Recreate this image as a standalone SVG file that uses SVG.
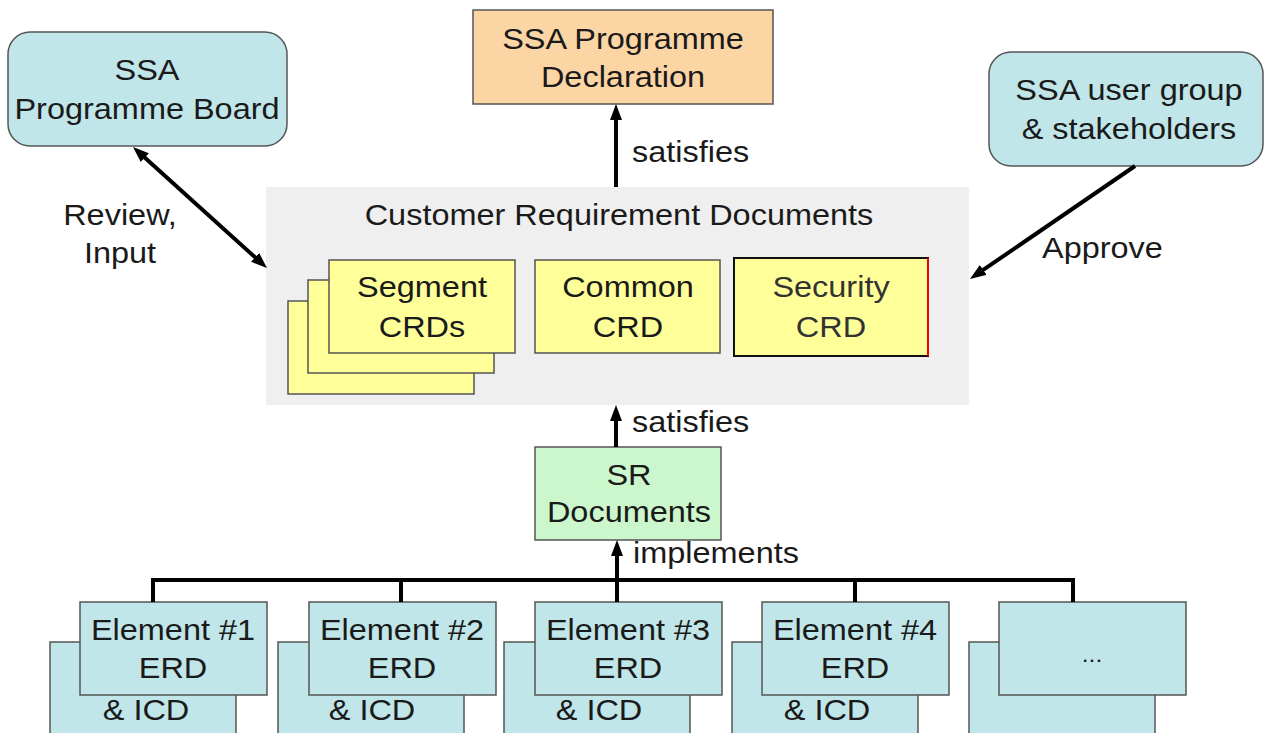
<svg xmlns="http://www.w3.org/2000/svg" width="1265" height="733" viewBox="0 0 1265 733">
<style>
  text { font-family: "Liberation Sans", Arial, sans-serif; font-size: 29px; fill: #1a1a1a; }
  .c { text-anchor: middle; }
  .cyan { fill: #c0e6e9; stroke: #555; stroke-width: 1.5; }
  .yellow { fill: #ffff99; stroke: #555; stroke-width: 1.5; }
  .conn { stroke: #000; stroke-width: 4; fill: none; }
</style>
<defs>
  <marker id="ah" viewBox="0 0 16 12" markerWidth="16" markerHeight="12" refX="4" refY="6" orient="auto-start-reverse" markerUnits="userSpaceOnUse">
    <path d="M0,0 L16,6 L0,12 z" fill="#000"/>
  </marker>
</defs>
<rect width="1265" height="733" fill="#fff"/>

<g id="crd-container">
  <rect x="266" y="187" width="703" height="218" fill="#efefef"/>
  <text class="c" transform="matrix(1.12 0 0 1 619 225)">Customer Requirement Documents</text>
</g>

<g id="board">
  <rect x="8" y="32" width="279" height="114" rx="22" class="cyan"/>
  <text class="c" transform="matrix(1.12 0 0 1 147 80)"><tspan x="0" y="0">SSA</tspan><tspan x="0" y="39">Programme Board</tspan></text>
</g>

<g id="declaration">
  <rect x="473" y="10" width="300" height="94" fill="#fcd5a5" stroke="#555" stroke-width="1.5"/>
  <text class="c" transform="matrix(1.12 0 0 1 623 49)"><tspan x="0" y="0">SSA Programme</tspan><tspan x="0" y="38">Declaration</tspan></text>
</g>

<g id="usergroup">
  <rect x="989" y="52" width="274" height="114" rx="22" class="cyan"/>
  <text class="c" transform="matrix(1.12 0 0 1 1129 100)"><tspan x="0" y="0">SSA user group</tspan><tspan x="0" y="39">&amp; stakeholders</tspan></text>
</g>

<g id="segment-crds">
  <rect x="288" y="301" width="186" height="93" class="yellow"/>
  <rect x="308" y="280" width="186" height="93" class="yellow"/>
  <rect x="329" y="260" width="186" height="93" class="yellow"/>
  <text class="c" transform="matrix(1.12 0 0 1 422 297)"><tspan x="0" y="0">Segment</tspan><tspan x="0" y="40">CRDs</tspan></text>
</g>

<g id="common-crd">
  <rect x="535" y="260" width="185" height="93" class="yellow"/>
  <text class="c" transform="matrix(1.12 0 0 1 628 297)"><tspan x="0" y="0">Common</tspan><tspan x="0" y="40">CRD</tspan></text>
</g>

<g id="security-crd">
  <rect x="734" y="258" width="194" height="98" fill="#ffff99" stroke="#111" stroke-width="2"/>
  <line x1="928" y1="258" x2="928" y2="356" stroke="#e00" stroke-width="2"/>
  <text class="c" transform="matrix(1.12 0 0 1 831 297)" style="fill:#333"><tspan x="0" y="0">Security</tspan><tspan x="0" y="40">CRD</tspan></text>
</g>

<g id="sr-documents">
  <rect x="535" y="447" width="186" height="93" fill="#ccf7cc" stroke="#555" stroke-width="1.5"/>
  <text class="c" transform="matrix(1.12 0 0 1 629 485)"><tspan x="0" y="0">SR</tspan><tspan x="0" y="37">Documents</tspan></text>
</g>

<g id="element1">
  <rect x="50" y="642" width="186" height="100" class="cyan"/>
  <text class="c" transform="matrix(1.12 0 0 1 146 720)">&amp; ICD</text>
  <rect x="80" y="602" width="187" height="93" class="cyan"/>
  <text class="c" transform="matrix(1.12 0 0 1 173 640)"><tspan x="0" y="0">Element #1</tspan><tspan x="0" y="38">ERD</tspan></text>
</g>

<g id="element2">
  <rect x="278" y="642" width="186" height="100" class="cyan"/>
  <text class="c" transform="matrix(1.12 0 0 1 372 720)">&amp; ICD</text>
  <rect x="309" y="602" width="187" height="93" class="cyan"/>
  <text class="c" transform="matrix(1.12 0 0 1 402 640)"><tspan x="0" y="0">Element #2</tspan><tspan x="0" y="38">ERD</tspan></text>
</g>

<g id="element3">
  <rect x="504" y="642" width="186" height="100" class="cyan"/>
  <text class="c" transform="matrix(1.12 0 0 1 599 720)">&amp; ICD</text>
  <rect x="535" y="602" width="187" height="93" class="cyan"/>
  <text class="c" transform="matrix(1.12 0 0 1 628 640)"><tspan x="0" y="0">Element #3</tspan><tspan x="0" y="38">ERD</tspan></text>
</g>

<g id="element4">
  <rect x="732" y="642" width="186" height="100" class="cyan"/>
  <text class="c" transform="matrix(1.12 0 0 1 827 720)">&amp; ICD</text>
  <rect x="762" y="602" width="187" height="93" class="cyan"/>
  <text class="c" transform="matrix(1.12 0 0 1 855 640)"><tspan x="0" y="0">Element #4</tspan><tspan x="0" y="38">ERD</tspan></text>
</g>

<g id="element5">
  <rect x="969" y="642" width="186" height="100" class="cyan"/>
  <rect x="999" y="602" width="187" height="93" class="cyan"/>
  <text class="c" transform="matrix(1.12 0 0 1 1092 662)" style="font-size:22px">...</text>
</g>

<g id="connectors">
  <line class="conn" x1="616" y1="187" x2="616" y2="116" marker-end="url(#ah)"/>
  <line class="conn" x1="616" y1="447" x2="616" y2="417" marker-end="url(#ah)"/>
  <line class="conn" x1="617" y1="602" x2="617" y2="552" marker-end="url(#ah)"/>
  <path class="conn" d="M153,602 V580 H1073 V602"/>
  <line class="conn" x1="401" y1="580" x2="401" y2="602"/>
  <line class="conn" x1="855" y1="580" x2="855" y2="602"/>
  <line class="conn" x1="141.9" y1="155" x2="258.1" y2="260" marker-start="url(#ah)" marker-end="url(#ah)"/>
  <line class="conn" x1="1135" y1="166" x2="979.9" y2="272.2" marker-end="url(#ah)"/>
</g>

<g id="labels">
  <text transform="matrix(1.12 0 0 1 632 162)">satisfies</text>
  <text transform="matrix(1.12 0 0 1 632 432)">satisfies</text>
  <text transform="matrix(1.12 0 0 1 633 563)">implements</text>
  <text transform="matrix(1.12 0 0 1 1042 258)">Approve</text>
  <text class="c" transform="matrix(1.12 0 0 1 120 225)"><tspan x="0" y="0">Review,</tspan><tspan x="0" y="38">Input</tspan></text>
</g>
</svg>
